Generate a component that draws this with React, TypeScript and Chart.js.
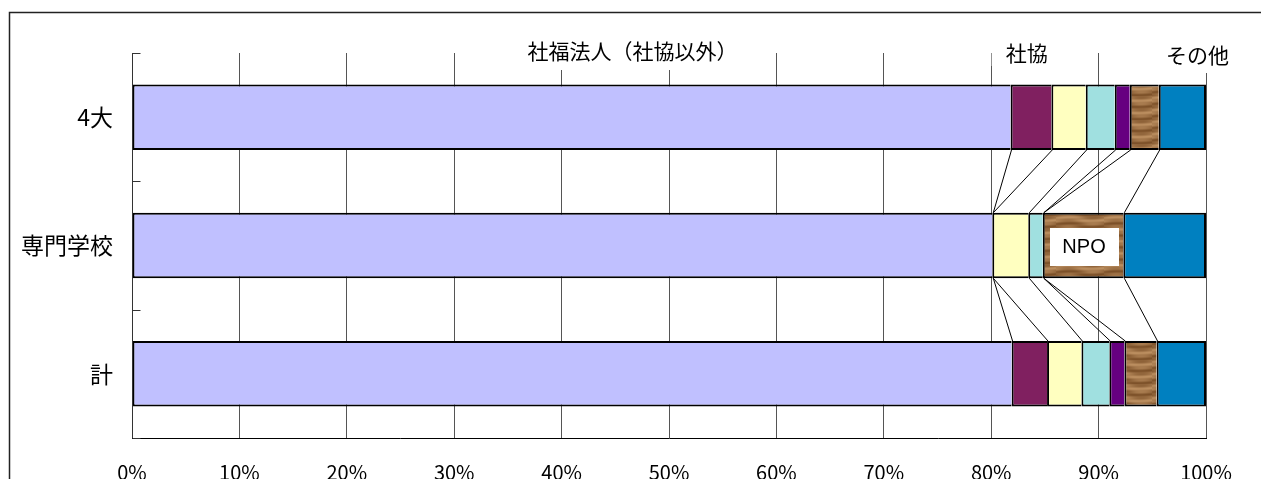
import React, { useEffect, useRef } from 'react';
import { Chart, registerables } from 'chart.js';

Chart.register(...registerables);

// ---- data ----
const categories = ['4大', '専門学校', '計'];
const seriesNames = ['社福法人（社協以外）', '社協', '区分3', '区分4', '区分5', 'NPO', 'その他'];
const shafuku = [81.8, 80.1, 81.9];
const shakyo = [3.8, 0, 3.3];
const series3 = [3.2, 3.35, 3.2];
const series4 = [2.7, 1.35, 2.6];
const series5 = [1.4, 0, 1.4];
const npo = [2.7, 7.5, 3.0];
const sonota = [4.4, 7.7, 4.6];
const xTickValues = [0, 10, 20, 30, 40, 50, 60, 70, 80, 90, 100];
const topLabels = ['社福法人（社協以外）', '社協', 'その他'];
const insideLabel = 'NPO';

const JP = '"Noto Sans CJK JP", "Noto Sans", sans-serif';

function makeWood(): CanvasPattern | string {
  const c = document.createElement('canvas');
  c.width = 48;
  c.height = 24;
  const g = c.getContext('2d');
  if (!g) return '#9a6a3c';
  const img = g.createImageData(48, 24);
  for (let y = 0; y < 24; y++) {
    for (let x = 0; x < 48; x++) {
      const w = Math.sin((y + 2.2 * Math.sin(x * 0.13)) * (Math.PI * 2 / 12));
      const w2 = Math.sin((y * 1.7 + x * 0.05) * 0.9);
      let t = 0.6 + 0.28 * w + 0.1 * w2;
      if (t < 0) t = 0;
      if (t > 1) t = 1;
      const dark = [105, 62, 24];
      const light = [190, 145, 98];
      const i = (y * 48 + x) * 4;
      img.data[i] = dark[0] + (light[0] - dark[0]) * t;
      img.data[i + 1] = dark[1] + (light[1] - dark[1]) * t;
      img.data[i + 2] = dark[2] + (light[2] - dark[2]) * t;
      img.data[i + 3] = 255;
    }
  }
  g.putImageData(img, 0, 0);
  const p = g.createPattern(c, 'repeat');
  return p || '#9a6a3c';
}

const decorPlugin = {
  id: 'decor',
  afterDatasetsDraw(chart: any) {
    const ctx = chart.ctx as CanvasRenderingContext2D;
    const n = chart.data.datasets.length;
    ctx.save();
    // series lines between bars
    ctx.strokeStyle = '#000';
    ctx.lineWidth = 1;
    for (let d = 0; d < n - 1; d++) {
      const els = chart.getDatasetMeta(d).data;
      for (let i = 0; i < els.length - 1; i++) {
        const a = els[i];
        const b = els[i + 1];
        ctx.beginPath();
        ctx.moveTo(a.x + 1, a.y + a.height / 2);
        ctx.lineTo(b.x + 1, b.y - b.height / 2);
        ctx.stroke();
      }
    }
    // inside label (NPO)
    const di = seriesNames.indexOf('NPO');
    const ci = categories.indexOf('専門学校');
    const el = chart.getDatasetMeta(di).data[ci];
    if (el) {
      const cx = (el.x + el.base) / 2 + 1;
      const cy = el.y;
      ctx.fillStyle = '#fff';
      ctx.fillRect(Math.round(cx - 34.5), Math.round(cy - 17.5), 69, 38);
      ctx.fillStyle = '#000';
      ctx.font = '20px "Liberation Sans", Arial, sans-serif';
      ctx.textAlign = 'center';
      ctx.textBaseline = 'middle';
      ctx.fillText(insideLabel, cx, cy + 2);
    }
    ctx.restore();
  },
  afterDraw(chart: any) {
    const ctx = chart.ctx as CanvasRenderingContext2D;
    const area = chart.chartArea;
    const xs = chart.scales.x;
    const ys = chart.scales.y;
    ctx.save();
    // left axis with inward ticks at category boundaries
    ctx.strokeStyle = '#333';
    ctx.lineWidth = 1;
    const x0 = Math.round(area.left) + 0.5;
    ctx.beginPath();
    ctx.moveTo(x0, area.top);
    ctx.lineTo(x0, area.bottom);
    const half = (ys.getPixelForValue(1) - ys.getPixelForValue(0)) / 2;
    for (let i = 0; i <= categories.length; i++) {
      const y = Math.round(ys.getPixelForValue(i) - half) + 0.5;
      ctx.moveTo(x0, y);
      ctx.lineTo(x0 + 8, y);
    }
    ctx.stroke();

    // top annotation labels
    const spots = [
      { at: 46.6, cy: 51, boxBottom: 70, pad: 14 },
      { at: 83.3, cy: 53, boxBottom: 66, pad: 14 },
      { at: 99.2, cy: 55, boxBottom: 73, pad: 8 },
    ];
    ctx.font = '21px ' + JP;
    ctx.textAlign = 'center';
    ctx.textBaseline = 'middle';
    topLabels.forEach((t, i) => {
      const s = spots[i];
      const px = xs.getPixelForValue(s.at);
      const w = ctx.measureText(t).width;
      ctx.fillStyle = '#fff';
      ctx.fillRect(px - w / 2 - s.pad, s.cy - 16, w + 2 * s.pad, s.boxBottom - (s.cy - 16));
      ctx.fillStyle = '#000';
      ctx.fillText(t, px, s.cy);
    });

    // outer frame
    ctx.strokeStyle = '#222';
    ctx.lineWidth = 1.5;
    ctx.beginPath();
    ctx.moveTo(9.5, chart.height);
    ctx.lineTo(9.5, 12.5);
    ctx.lineTo(chart.width, 12.5);
    ctx.stroke();
    ctx.restore();
  },
};

export default function App() {
  const ref = useRef<HTMLCanvasElement | null>(null);
  useEffect(() => {
    if (!ref.current) return;
    const wood = makeWood();
    const values = [shafuku, shakyo, series3, series4, series5, npo, sonota];
    const colors: any[] = ['#C0C0FF', '#802060', '#FFFFC0', '#A0E0E0', '#660080', wood, '#0080C0'];
    const datasets = values.map((v, i) => ({
      label: seriesNames[i],
      data: v,
      backgroundColor: colors[i],
      borderColor: '#000',
      borderWidth: { top: 2, bottom: 2, left: 2, right: i === values.length - 1 ? 2 : 0 },
      borderSkipped: false,
      barPercentage: 0.51,
      categoryPercentage: 1,
    }));
    const chart = new Chart(ref.current, {
      type: 'bar',
      data: { labels: categories, datasets: datasets as any },
      options: {
        indexAxis: 'y',
        animation: false,
        responsive: false,
        devicePixelRatio: 1,
        layout: { padding: { top: 53, right: 55, left: 0, bottom: 0 } },
        plugins: { legend: { display: false }, tooltip: { enabled: false } },
        scales: {
          x: {
            type: 'linear',
            stacked: true,
            min: 0,
            max: 100,
            afterBuildTicks: (scale: any) => {
              scale.ticks = xTickValues.map((v) => ({ value: v }));
            },
            afterFit: (scale: any) => {
              scale.height = 41;
            },
            ticks: {
              callback: (v: any) => v + '%',
              font: { family: JP, size: 20 },
              color: '#000',
              padding: 22,
              maxRotation: 0,
              autoSkip: false,
            },
            grid: { color: '#555', lineWidth: 1, drawTicks: false },
            border: { display: true, color: '#000', width: 1 },
          },
          y: {
            type: 'category',
            stacked: true,
            offset: true,
            afterFit: (scale: any) => {
              scale.width = 132;
            },
            ticks: {
              font: { family: JP, size: 23 },
              color: '#000',
              padding: 11,
            },
            grid: { display: false },
            border: { display: false },
          },
        },
      },
      plugins: [decorPlugin],
    });
    return () => chart.destroy();
  }, []);
  return (
    <div style={{ position: 'absolute', left: 0, top: 0, width: 1261, height: 479, background: '#fff' }}>
      <canvas ref={ref} width={1261} height={479} style={{ display: 'block' }} />
    </div>
  );
}
